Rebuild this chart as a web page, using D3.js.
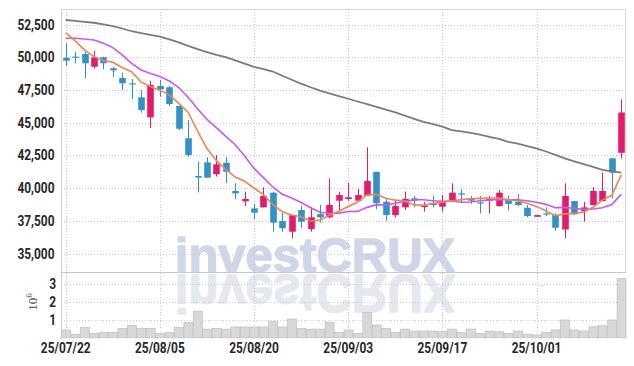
<!DOCTYPE html>
<html><head><meta charset="utf-8">
<script src="https://cdn.jsdelivr.net/npm/d3@7"></script>
<style>html,body{margin:0;padding:0;background:#fff;}svg{display:block;}</style>
</head><body>
<svg id="chart" width="634" height="366"></svg>
<script>
const dates = ["25/07/22","25/07/23","25/07/24","25/07/25","25/07/28","25/07/29","25/07/30","25/07/31","25/08/01","25/08/04",
"25/08/05","25/08/06","25/08/07","25/08/08","25/08/11","25/08/12","25/08/13","25/08/14","25/08/18","25/08/19",
"25/08/20","25/08/21","25/08/22","25/08/25","25/08/26","25/08/27","25/08/28","25/08/29","25/09/01","25/09/02",
"25/09/03","25/09/04","25/09/05","25/09/08","25/09/09","25/09/10","25/09/11","25/09/12","25/09/15","25/09/16",
"25/09/17","25/09/18","25/09/19","25/09/22","25/09/23","25/09/24","25/09/25","25/09/26","25/09/29","25/09/30",
"25/10/01","25/10/02","25/10/10","25/10/13","25/10/14","25/10/15","25/10/16","25/10/17","25/10/20","25/10/21"];
const open  = [49950,50050,50250,49280,50000,49160,48420,48010,46940,45410,47810,47710,46280,43810,40930,41970,41060,41940,39780,38990,
38450,38530,39650,37490,36670,38330,36870,38020,37770,39040,39170,39040,39420,41250,38960,37940,38530,39220,38560,38840,
38580,39090,39600,39220,38910,39040,38630,39170,38960,38500,37810,38070,37940,36840,39010,38250,38710,39010,42280,42700];
const high  = [51070,50430,50430,50500,50050,49280,48820,48320,47500,48190,48270,47810,46300,45210,42020,42360,42530,42400,40370,39730,
38790,40060,39730,38120,37940,38630,38530,38710,40750,39730,40410,39930,43120,41250,39220,39010,39730,39420,38960,39400,
39470,40370,39910,39400,39400,39420,39860,39420,39550,38710,37960,38530,38070,40370,39010,38960,40060,41180,42280,46790];
const low   = [49340,49540,48400,49160,49080,48470,47500,46810,45770,44600,46990,46280,44440,42400,39680,40800,40880,40370,39150,38630,
37620,38530,36670,36670,36170,36980,36670,37360,37690,38330,39040,38960,39400,38380,37510,37770,38330,38530,38200,38530,
38200,38960,38880,38790,38070,38070,38580,38280,38630,37770,37800,37870,36740,36170,37940,37430,38710,39010,39220,42280];
const close = [49740,50000,49540,50000,49540,49000,48010,47940,45970,47880,47550,46430,44540,42530,40800,40800,41820,41250,39600,39170,
38120,39400,37360,36930,37940,37430,37770,37770,38710,39470,39300,39470,40540,38840,37940,38630,39170,39040,38680,38710,
39010,39650,39550,39040,38840,39170,39650,38790,38710,37870,37940,37990,36970,39400,38000,38530,39780,39780,41180,45780];
const volume = [440000,200000,590000,250000,310000,310000,530000,700000,530000,530000,250000,310000,590000,870000,1500000,490000,530000,490000,610000,610000,
610000,610000,930000,610000,1060000,530000,490000,490000,870000,310000,440000,250000,1430000,720000,530000,310000,490000,380000,380000,380000,
340000,490000,290000,490000,250000,380000,340000,250000,380000,200000,160000,310000,440000,1000000,440000,380000,620000,680000,1000000,3340000];
const ma5  = [51880,51250,50550,50050,49760,49620,49220,48900,48100,47760,47470,47150,46480,45790,44370,43020,42100,41440,40850,40530,
39990,39510,38730,38200,37950,37810,37490,37570,37920,38230,38600,38940,39500,39520,39220,39080,39020,38720,38690,38850,
38920,39020,39120,39190,39220,39250,39250,39100,39030,38840,38590,38260,37900,38030,38060,38180,38540,39100,39450,41010];
const ma10 = [51450,51450,51400,51320,51070,50740,50180,49540,49030,48760,48540,48190,47690,46940,46070,45250,44630,43960,43320,42450,
41510,40800,40090,39530,39240,38900,38500,38150,38060,38090,38210,38220,38530,38720,38720,38840,38980,39110,39110,39030,
39000,39020,38920,38940,39030,39090,39130,39110,39110,39030,38920,38760,38500,38530,38450,38390,38400,38500,38740,39540];
const ma60 = [52850,52790,52710,52640,52520,52390,52200,51990,51850,51720,51570,51360,51140,50870,50620,50400,50180,50010,49770,49510,
49270,49090,48910,48590,48280,47980,47710,47450,47250,47040,46830,46620,46420,46210,46000,45790,45540,45300,45070,44890,
44700,44440,44330,44230,44080,43920,43760,43540,43400,43210,43045,42800,42540,42280,42050,41830,41620,41400,41280,41180];
const priceTicks = [35000,37500,40000,42500,45000,47500,50000,52500];
const volumeTicks = [1000000,2000000,3000000];
const tickDates = ["25/07/22","25/08/05","25/08/20","25/09/03","25/09/17","25/10/01"];

const svg = d3.select("#chart");
const L = 61, R = 626, T = 9, PB = 272, VB = 337.8;
const x = d3.scaleBand().domain(dates).range([L, R]).padding(0);
const bw = x.bandwidth();
const cx = d => x(d) + bw / 2;
const yP = d3.scaleLinear().domain([33590, 53690]).range([PB, T]);
const yV = d3.scaleLinear().domain([0, 3700000]).range([VB, PB]);

const UP = "#e8196b", DOWN = "#2f93c8";
const labelFont = "Roboto, 'Liberation Sans', sans-serif";
const SX = 0.85;

// watermark (with its mirrored reflection, clipped to the volume panel)
svg.append("defs").append("clipPath").attr("id", "below")
  .append("rect").attr("x", 0).attr("y", PB + 1).attr("width", 634).attr("height", 60);
const wm = svg.append("g").attr("font-family", "'Liberation Sans', Arial, sans-serif")
  .attr("font-weight", "bold").attr("font-size", 49).attr("text-anchor", "middle");
wm.append("text").attr("x", 315).attr("y", 272).attr("fill", "#cfd6e7")
  .attr("stroke", "#cfd6e7").attr("stroke-width", 1.4).attr("stroke-linejoin", "round").text("investCRUX");
wm.append("g").attr("clip-path", "url(#below)")
  .append("text").attr("x", 315).attr("y", 272).attr("fill", "#e6e8f0")
  .attr("stroke", "#e6e8f0").attr("stroke-width", 1.4).attr("stroke-linejoin", "round")
  .attr("transform", `translate(0,${275 + 272 * 1.08}) scale(1,-1.08)`).text("investCRUX");

// grid
const grid = svg.append("g").attr("stroke", "#c6cadf").attr("stroke-dasharray", "1,2").attr("stroke-width", 1);
grid.selectAll(".hp").data(priceTicks).join("line")
  .attr("x1", L).attr("x2", R).attr("y1", d => Math.round(yP(d)) + 0.5).attr("y2", d => Math.round(yP(d)) + 0.5);
grid.selectAll(".hv").data(volumeTicks).join("line").attr("class", "hv")
  .attr("x1", L).attr("x2", R).attr("y1", d => Math.round(yV(d)) + 0.5).attr("y2", d => Math.round(yV(d)) + 0.5);
grid.selectAll(".vv").data(tickDates).join("line").attr("class", "vv")
  .attr("x1", d => Math.round(cx(d)) + 0.5).attr("x2", d => Math.round(cx(d)) + 0.5).attr("y1", T).attr("y2", VB);

// frame
svg.append("rect").attr("x", L + 0.5).attr("y", T + 0.5).attr("width", R - L - 1).attr("height", PB - T)
  .attr("fill", "none").attr("stroke", "#d4d4d4");
svg.append("line").attr("x1", L + 0.5).attr("x2", L + 0.5).attr("y1", T).attr("y2", VB).attr("stroke", "#d0d0d0");
svg.append("line").attr("x1", L).attr("x2", R).attr("y1", PB + 0.5).attr("y2", PB + 0.5).attr("stroke", "#c8c8c8");

// volume bars
svg.append("g").selectAll("rect").data(dates).join("rect")
  .attr("x", d => x(d) + 0.5).attr("width", bw - 0.5)
  .attr("y", (d, i) => yV(volume[i])).attr("height", (d, i) => VB - yV(volume[i]))
  .attr("fill", "#d8d8d8").attr("stroke", "#bfbfbf").attr("stroke-width", 0.7);

// candles
const cg = svg.append("g");
const col = i => close[i] >= open[i] ? UP : DOWN;
cg.selectAll("line").data(dates).join("line")
  .attr("x1", d => Math.round(cx(d)) + 0.5).attr("x2", d => Math.round(cx(d)) + 0.5)
  .attr("y1", (d, i) => yP(high[i])).attr("y2", (d, i) => yP(low[i]))
  .attr("stroke", (d, i) => col(i)).attr("stroke-width", 1);
const bodyW = bw * 0.7;
cg.selectAll("rect").data(dates).join("rect")
  .attr("x", d => Math.round(cx(d)) + 0.5 - bodyW / 2).attr("width", bodyW)
  .attr("y", (d, i) => yP(Math.max(open[i], close[i])))
  .attr("height", (d, i) => Math.max(1.2, Math.abs(yP(open[i]) - yP(close[i]))))
  .attr("fill", (d, i) => col(i));

// moving averages
const line = d3.line().x((v, i) => cx(dates[i])).y(v => yP(v)).curve(d3.curveLinear);
svg.append("path").datum(ma60).attr("d", line).attr("fill", "none").attr("stroke", "#7b7b7b").attr("stroke-width", 1.8);
svg.append("path").datum(ma10).attr("d", line).attr("fill", "none").attr("stroke", "#c65aee").attr("stroke-width", 1.6);
svg.append("path").datum(ma5).attr("d", line).attr("fill", "none").attr("stroke", "#f0864f").attr("stroke-width", 1.6);

// axes
function styleAxis(g) {
  g.select(".domain").remove();
  g.selectAll(".tick line").remove();
  g.selectAll("text").attr("font-family", labelFont).attr("font-size", 14).attr("font-weight", 700)
    .attr("fill", "#262626");
}
const ay = svg.append("g").attr("transform", `translate(${L},0)`)
  .call(d3.axisLeft(yP).tickValues(priceTicks).tickSize(0).tickFormat(d3.format(",")));
styleAxis(ay);
ay.selectAll("text").attr("transform", `scale(${SX},1)`).attr("x", -6.5 / SX);

const av = svg.append("g").attr("transform", `translate(${L},0)`)
  .call(d3.axisLeft(yV).tickValues(volumeTicks).tickSize(0).tickFormat(d => d / 1e6));
styleAxis(av);
av.selectAll("text").attr("transform", `scale(${SX},1)`).attr("x", -5 / SX);

const ax = svg.append("g").attr("transform", `translate(0,${VB})`)
  .call(d3.axisBottom(x).tickValues(tickDates).tickSize(0).tickPadding(5.5));
styleAxis(ax);
ax.selectAll(".tick text").attr("transform", `scale(${SX},1)`);

// exponent label
const ex = svg.append("text").attr("transform", "translate(36.5,302) rotate(-90)")
  .attr("text-anchor", "middle").attr("font-family", "'Liberation Serif', 'DejaVu Serif', serif")
  .attr("font-size", 13).attr("fill", "#444");
ex.append("tspan").text("10");
ex.append("tspan").attr("dy", -5).attr("font-size", 9).text("6");
</script>
</body></html>
